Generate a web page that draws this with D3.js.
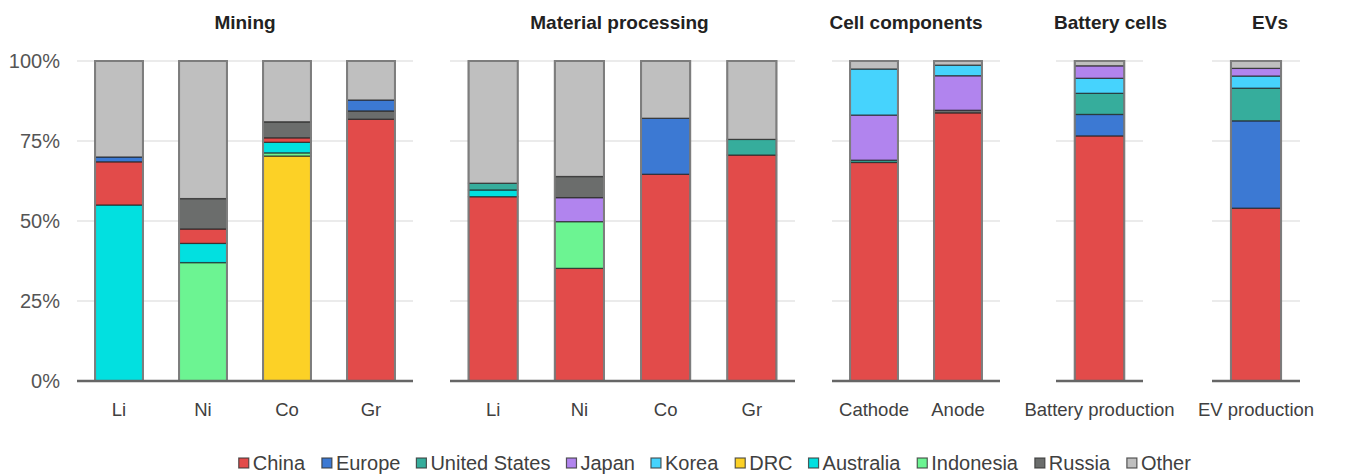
<!doctype html>
<html>
<head>
  <meta charset="utf-8">
  <title>Supply chain shares by region</title>
  <script src="https://cdnjs.cloudflare.com/ajax/libs/d3/7.8.5/d3.min.js"></script>
  <style>
  body { margin: 0; background: #fff; }
  text { font-family: "Liberation Sans", Arial, sans-serif; fill: #404040; }
  .title { font-weight: bold; font-size: 19px; fill: #222; }
  .grid line { stroke: #e4e4e4; stroke-width: 1.5px; }
  .base { stroke: #666; stroke-width: 2.5px; }
  </style>
</head>
<body>
  <script>
  // regions and their colours, in legend order
  var regions = ["China", "Europe", "United States", "Japan", "Korea", "DRC", "Australia", "Indonesia", "Russia", "Other"];
  var regionColors = ["#e24b4a", "#3c79d3", "#36ad9c", "#b184ee", "#46d3fd", "#fcd126", "#02e0e0", "#6cf492", "#6b6d6c", "#bfbfbf"];

  var stageTitles = ["Mining", "Material processing", "Cell components", "Battery cells", "EVs"];
  var stageCats = [
    ["Li", "Ni", "Co", "Gr"],
    ["Li", "Ni", "Co", "Gr"],
    ["Cathode", "Anode"],
    ["Battery production"],
    ["EV production"]
  ];

  // shares (%) per bar, bottom to top
  var miningShares = [
    [["Australia", 55], ["China", 13.5], ["Europe", 1.5], ["Other", 30]],
    [["Indonesia", 37], ["Australia", 6], ["China", 4.5], ["Russia", 9.5], ["Other", 43]],
    [["DRC", 70.3], ["Indonesia", 1], ["Australia", 3.3], ["China", 1.4], ["Russia", 5], ["Other", 19]],
    [["China", 81.8], ["Russia", 2.6], ["Europe", 3.4], ["Other", 12.2]]
  ];
  var processingShares = [
    [["China", 57.6], ["Australia", 2.1], ["United States", 2.1], ["Other", 38.2]],
    [["China", 35.2], ["Indonesia", 14.6], ["Japan", 7.5], ["Russia", 6.6], ["Other", 36.1]],
    [["China", 64.6], ["Europe", 17.5], ["Other", 17.9]],
    [["China", 70.6], ["United States", 4.9], ["Other", 24.5]]
  ];
  var componentShares = [
    [["China", 68.3], ["United States", 0.7], ["Japan", 14.1], ["Korea", 14.4], ["Other", 2.5]],
    [["China", 83.8], ["Russia", 0.8], ["Japan", 10.8], ["Korea", 3.3], ["Other", 1.3]]
  ];
  var batteryShares = [
    [["China", 76.6], ["Europe", 6.7], ["United States", 6.6], ["Korea", 4.7], ["Japan", 3.9], ["Other", 1.5]]
  ];
  var evShares = [
    [["China", 54], ["Europe", 27.3], ["United States", 10.2], ["Korea", 3.8], ["Japan", 2.4], ["Other", 2.3]]
  ];
  var stageShares = [miningShares, processingShares, componentShares, batteryShares, evShares];

  var yTicks = [0, 25, 50, 75, 100];

  // layout
  var width = 1352, height = 475,
    plotTop = 61, plotBottom = 381,
    panelX = [[77, 413], [450, 795], [832, 1000], [1056, 1143], [1212, 1300]],
    titleShift = [0, -3, -10, 11, 14];

  var color = d3.scaleOrdinal().domain(regions).range(regionColors);
  var y = d3.scaleLinear().domain([0, 100]).range([plotBottom, plotTop]);

  var svg = d3.select("body").append("svg")
      .attr("width", width)
      .attr("height", height);

  // y axis labels
  svg.append("g")
    .selectAll("text")
    .data(yTicks)
    .join("text")
      .attr("x", 60)
      .attr("y", function(d) { return y(d); })
      .attr("dy", "0.35em")
      .attr("text-anchor", "end")
      .style("font-size", "20px")
      .style("fill", "#555")
      .text(function(d) { return d + "%"; });

  stageTitles.forEach(function(title, i) {
    var x = d3.scaleBand()
        .domain(stageCats[i])
        .range(panelX[i])
        .paddingInner(0.43)
        .paddingOuter(0.215);

    var g = svg.append("g");

    g.append("g")
      .attr("class", "grid")
      .selectAll("line")
      .data(yTicks.slice(1))
      .join("line")
        .attr("x1", panelX[i][0])
        .attr("x2", panelX[i][1])
        .attr("y1", function(d) { return y(d); })
        .attr("y2", function(d) { return y(d); });

    g.append("text")
      .attr("class", "title")
      .attr("x", (panelX[i][0] + panelX[i][1]) / 2 + titleShift[i])
      .attr("y", 29)
      .attr("text-anchor", "middle")
      .text(title);

    var bars = g.selectAll(".bar")
      .data(stageShares[i])
      .join("g")
        .attr("class", "bar")
        .attr("transform", function(d, j) { return "translate(" + x(stageCats[i][j]) + ",0)"; });

    bars.selectAll("rect.seg")
      .data(function(d) {
        var cum = d3.cumsum(d, function(s) { return s[1]; });
        return d.map(function(s, k) { return {region: s[0], y0: cum[k] - s[1], y1: cum[k]}; });
      })
      .join("rect")
        .attr("class", "seg")
        .attr("x", 0)
        .attr("width", x.bandwidth())
        .attr("y", function(d) { return y(d.y1); })
        .attr("height", function(d) { return y(d.y0) - y(d.y1); })
        .attr("fill", function(d) { return color(d.region); })
        .attr("stroke", "#222")
        .attr("stroke-opacity", 0.7)
        .attr("stroke-width", 1.3);

    bars.append("rect")
      .attr("x", 0)
      .attr("y", y(100))
      .attr("width", x.bandwidth())
      .attr("height", y(0) - y(100))
      .attr("fill", "none")
      .attr("stroke", "#7d7d7d")
      .attr("stroke-width", 2);

    g.append("line")
      .attr("class", "base")
      .attr("x1", panelX[i][0])
      .attr("x2", panelX[i][1])
      .attr("y1", y(0))
      .attr("y2", y(0));

    g.append("g")
      .selectAll("text")
      .data(stageCats[i])
      .join("text")
        .attr("x", function(d) { return x(d) + x.bandwidth() / 2; })
        .attr("y", 416)
        .attr("text-anchor", "middle")
        .style("font-size", "18.5px")
        .text(function(d) { return d; });
  });

  // legend
  var legend = svg.append("g").attr("transform", "translate(0,463)");
  var items = legend.selectAll("g")
    .data(regions)
    .join("g");

  items.append("rect")
    .attr("width", 10)
    .attr("height", 10)
    .attr("y", -5)
    .attr("fill", function(d) { return color(d); })
    .attr("stroke", "#333")
    .attr("stroke-opacity", 0.8)
    .attr("stroke-width", 1.2);

  items.append("text")
    .attr("x", 14)
    .attr("dy", "0.35em")
    .style("font-size", "20px")
    .text(function(d) { return d; });

  var offsets = [], total = 0;
  items.each(function() {
    offsets.push(total);
    total += this.getBBox().width + 16;
  });
  total -= 16;
  var start = 715 - total / 2;
  items.attr("transform", function(d, k) { return "translate(" + (start + offsets[k]) + ",0)"; });
  </script>
</body>
</html>
